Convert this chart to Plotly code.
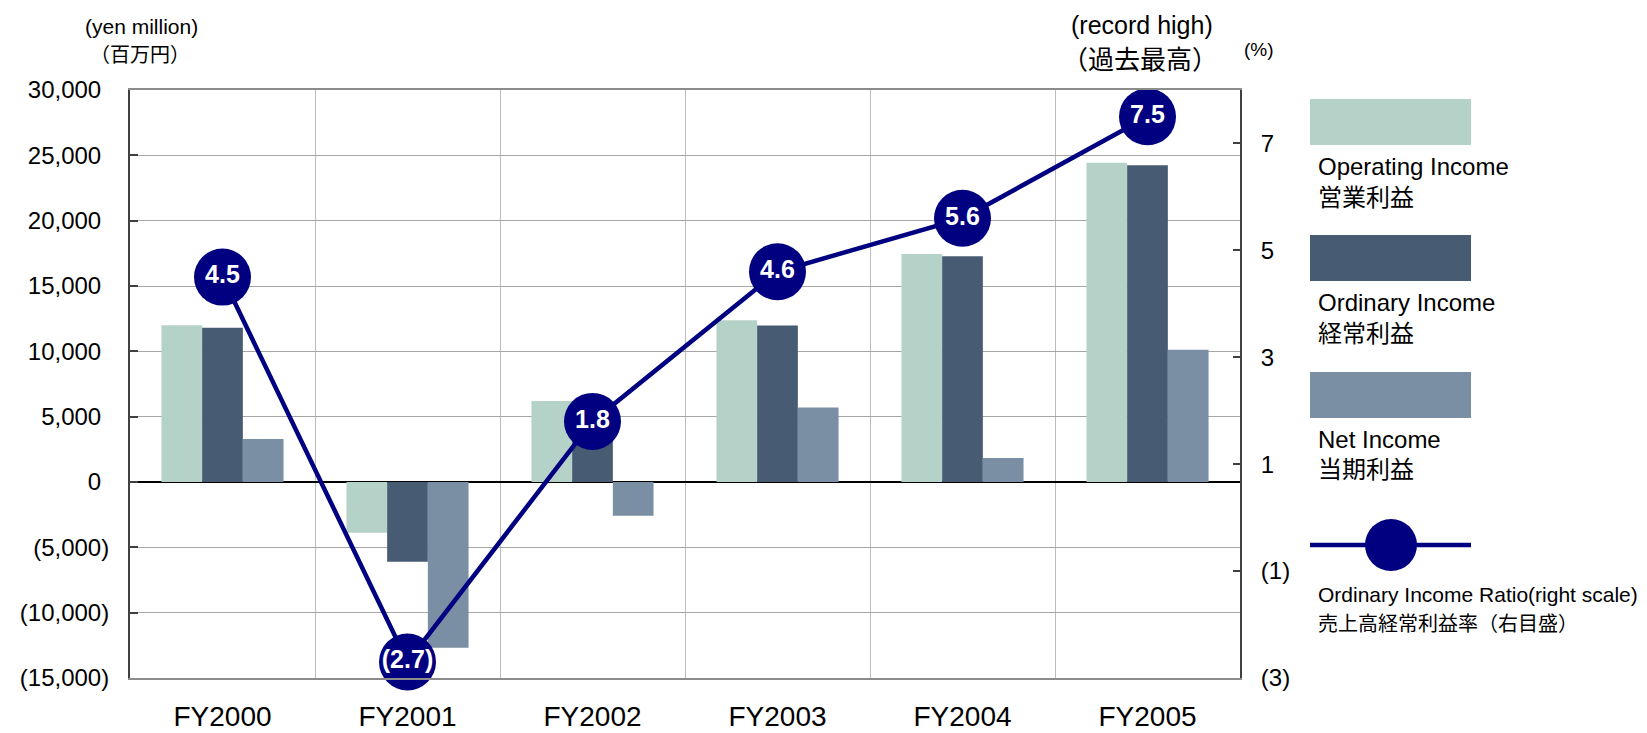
import plotly.graph_objects as go

# ---------------- data ----------------
years = ["FY2000", "FY2001", "FY2002", "FY2003", "FY2004", "FY2005"]
operating_income = [12000, -3880, 6200, 12370, 17440, 24430]
ordinary_income = [11800, -6100, 3200, 11970, 17270, 24250]
net_income = [3300, -12690, -2580, 5700, 1840, 10120]
ordinary_ratio = [4.5, -2.7, 1.8, 4.6, 5.6, 7.5]

left_ticks = [30000, 25000, 20000, 15000, 10000, 5000, 0, -5000, -10000, -15000]
right_ticks = [7, 5, 3, 1, -1, -3]

series_names = ["Operating Income", "Ordinary Income", "Net Income"]
series_names_ja = ["営業利益", "経常利益", "当期利益"]
ratio_name = "Ordinary Income Ratio(right scale)"
ratio_name_ja = "売上高経常利益率（右目盛）"

# ---------------- styles ----------------
C_OP = "#B5D2C9"
C_ORD = "#475C73"
C_NET = "#7A8FA3"
C_LINE = "#000080"
FONT = "Liberation Sans, Arial, Noto Sans CJK JP, sans-serif"
CJK = "Noto Sans CJK JP"

OFF = 8  # page body margin
W, H = 1647 - OFF, 733 - OFF
# plot area in page pixels -> figure pixels
PL, PR, PT, PB = 130 - OFF, 1240 - OFF, 90 - OFF, 678 - OFF


def fmt_left(v):
    if v < 0:
        return f"({abs(v):,})"
    return f"{v:,}<span style='color:rgba(0,0,0,0)'>)</span>"


def fmt_right(v):
    return f"({abs(v)})" if v < 0 else f"{v}"


def fmt_ratio(v):
    return f"({abs(v)})" if v < 0 else f"{v}"


fig = go.Figure()
for name, vals, col in zip(series_names, [operating_income, ordinary_income, net_income],
                           [C_OP, C_ORD, C_NET]):
    fig.add_trace(go.Bar(x=years, y=vals, name=name, marker=dict(color=col, line=dict(width=0)),
                         yaxis="y", showlegend=False))

fig.add_trace(go.Scatter(
    x=years, y=ordinary_ratio, yaxis="y2", mode="lines+markers+text",
    line=dict(color=C_LINE, width=4.5),
    marker=dict(color=C_LINE, size=57, line=dict(width=0)),
    text=[fmt_ratio(v) for v in ordinary_ratio], textposition="middle center",
    textfont=dict(color="white", size=25, family=FONT, weight="bold"),
    cliponaxis=False, showlegend=False, name=ratio_name))

fig.update_layout(
    width=W, height=H,
    margin=dict(l=PL, r=W - PR, t=PT, b=H - PB, pad=0, autoexpand=False),
    paper_bgcolor="white", plot_bgcolor="white",
    barmode="group", bargap=0.34, bargroupgap=0,
    font=dict(family=FONT, color="black"),
    xaxis=dict(
        type="category", tickson="boundaries", showgrid=True, gridcolor="#BDBDBD", gridwidth=1,
        showline=True, linecolor="#8C8C8C", linewidth=2, mirror=True, automargin=False,
        ticks="", tickfont=dict(size=28, family=FONT, color="black"), ticklabelstandoff=12,
    ),
    yaxis=dict(
        range=[-15000, 30000], tickvals=left_ticks, ticktext=[fmt_left(v) for v in left_ticks],
        showgrid=True, gridcolor="#A6A6A6", gridwidth=1, automargin=False,
        zeroline=True, zerolinecolor="black", zerolinewidth=1.5,
        showline=True, linecolor="#404040", linewidth=2,
        ticks="inside", ticklen=8, tickcolor="#404040", tickwidth=1.5,
        tickfont=dict(size=24, family=FONT, color="black"), ticklabelstandoff=14,
    ),
    yaxis2=dict(
        overlaying="y", side="right", range=[-3, 8], automargin=False,
        tickvals=right_ticks, ticktext=[fmt_right(v) for v in right_ticks],
        showgrid=False, zeroline=False,
        showline=True, linecolor="#404040", linewidth=2,
        ticks="inside", ticklen=7, tickcolor="#404040", tickwidth=1.5,
        tickfont=dict(size=24, family=FONT, color="black"), ticklabelstandoff=14,
    ),
)


def px(X):
    """page pixel x -> paper coordinate"""
    return (X - OFF - PL) / (PR - PL)


def py(Y):
    """page pixel y -> paper coordinate"""
    return (PB - (Y - OFF)) / (PB - PT)


shapes = []
annotations = []


def label(x, y, text, size, family=FONT, anchor="left"):
    annotations.append(dict(xref="paper", yref="paper", x=px(x), y=py(y), text=text,
                            xanchor=anchor, yanchor="middle", showarrow=False,
                            font=dict(size=size, family=family, color="black")))


# Legend: bar swatches
swatch_tops = [99, 235, 372]
for top, col, en, ja in zip(swatch_tops, [C_OP, C_ORD, C_NET], series_names, series_names_ja):
    shapes.append(dict(type="rect", xref="paper", yref="paper",
                       x0=px(1310), x1=px(1471), y0=py(top + 46), y1=py(top),
                       fillcolor=col, line=dict(width=0)))
    label(1316, top + 67, en, 24)
    label(1316, top + 96, ja, 24, CJK)

# Legend: line + marker
shapes.append(dict(type="line", xref="paper", yref="paper", x0=px(1310), x1=px(1471),
                   y0=py(545), y1=py(545), line=dict(color=C_LINE, width=4.5)))
shapes.append(dict(type="circle", xref="paper", yref="paper",
                   x0=px(1391 - 26), x1=px(1391 + 26), y0=py(545 + 26), y1=py(545 - 26),
                   fillcolor=C_LINE, line=dict(width=0)))
label(1316, 594, ratio_name, 21)
label(1316, 622, ratio_name_ja, 20, CJK)

# Unit labels
label(141, 27, "(yen million)", 21, anchor="center")
label(140, 54, "（百万円）", 20, CJK, anchor="center")
label(1142, 25, "(record high)", 25, anchor="center")
label(1140, 57, "（過去最高）", 26, CJK, anchor="center")
label(1259, 50, "(%)", 19, anchor="center")

fig.update_layout(shapes=shapes, annotations=annotations)
fig.write_html("out.html")
